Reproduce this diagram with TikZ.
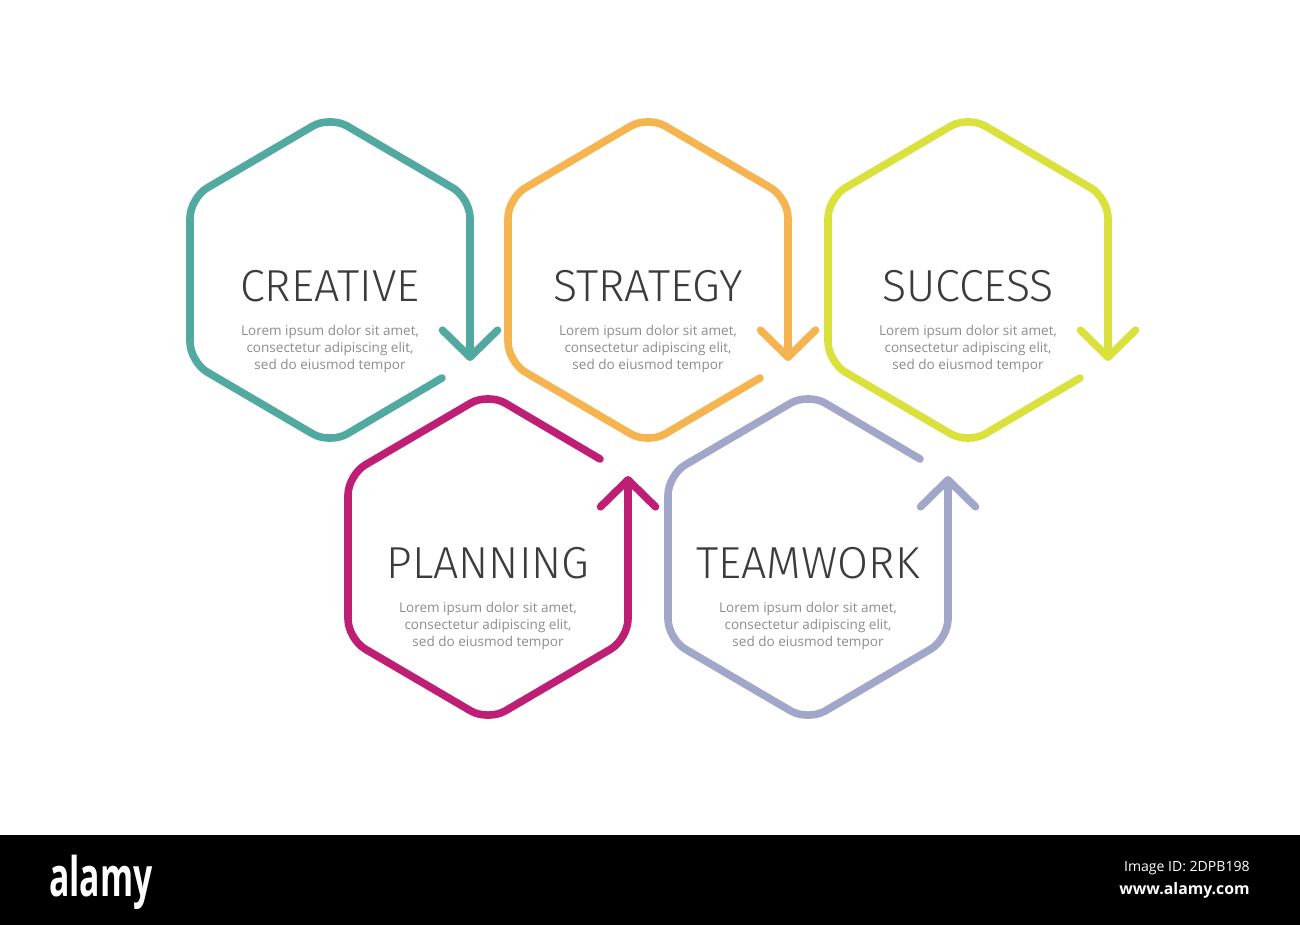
\documentclass[tikz,border=0pt]{standalone}
\usepackage{fontspec}
\setmainfont{Open Sans}
\newfontfamily\titlefont{Fira Sans Light}
\usepackage{tikz}
\usetikzlibrary{arrows.meta}
\usepackage{xcolor}

\definecolor{hexteal}{HTML}{52A9A0}
\definecolor{hexorange}{HTML}{F6B450}
\definecolor{hexlime}{HTML}{DAE03C}
\definecolor{hexmagenta}{HTML}{BE1E74}
\definecolor{hexlavender}{HTML}{A2A6C8}
\definecolor{titlegray}{HTML}{3C3C3C}
\definecolor{bodygray}{HTML}{8C8C8C}

\begin{document}
\begin{tikzpicture}[x=0.02cm, y=-0.02cm,
    hexline/.style={line width=0.152cm, line cap=round, rounded corners=0.4cm,
        -{Straight Barb[round, length=0.54cm, width=1.1cm]}},
    title/.style={font=\titlefont\fontsize{25.5}{28}\selectfont, text=titlegray, inner sep=0pt},
    body/.style={font=\fontsize{7.7}{9.7}\selectfont, text=bodygray, align=center, inner sep=0pt}]
    \useasboundingbox (0,0) rectangle (1300,925);

    % upper row, arrows point down
    \foreach \name/\x/\y/\col/\txt in {creative/330/280/hexteal/CREATIVE,
            strategy/648/280/hexorange/STRATEGY, success/968/280/hexlime/SUCCESS}
    {
        \begin{scope}[shift={(\x,\y)}]
            \draw[hexline, draw=\col] (112,98) -- (0,164) -- (-140,82) -- (-140,-82)
                -- (0,-164) -- (140,-82) -- (140,81);
            \node[title] (\name-title) at (0,6) {\txt};
            \node[body] (\name-body) at (0,69)
                {Lorem ipsum dolor sit amet,\\consectetur adipiscing elit,\\sed do eiusmod tempor};
        \end{scope}
    }

    % lower row, arrows point up
    \foreach \name/\x/\y/\col/\txt in {planning/488/557/hexmagenta/PLANNING,
            teamwork/808/557/hexlavender/TEAMWORK}
    {
        \begin{scope}[shift={(\x,\y)}]
            \draw[hexline, draw=\col] (112,-98) -- (0,-164) -- (-140,-82) -- (-140,82)
                -- (0,164) -- (140,82) -- (140,-81);
            \node[title] (\name-title) at (0,6) {\txt};
            \node[body] (\name-body) at (0,69)
                {Lorem ipsum dolor sit amet,\\consectetur adipiscing elit,\\sed do eiusmod tempor};
        \end{scope}
    }

    % stock band
    \fill[black] (0,835) rectangle (1300,925);
    \node[text=white, inner sep=0pt] (logo) at (101,882)
        {\scalebox{0.62}[1]{\bfseries\fontsize{31}{33}\selectfont alamy}};
    \node[text=white, inner sep=0pt, anchor=east] (imageid) at (1250,868)
        {\fontsize{8}{9}\selectfont Image ID: 2DPB198};
    \node[text=white, inner sep=0pt, anchor=east] (website) at (1250,890)
        {\bfseries\fontsize{9}{10}\selectfont www.alamy.com};
\end{tikzpicture}
\end{document}
